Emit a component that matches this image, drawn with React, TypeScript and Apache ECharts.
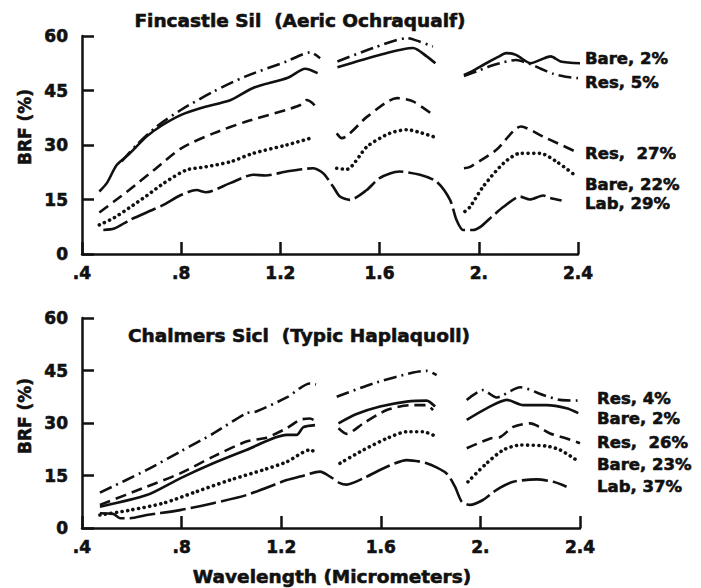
import React, { useEffect, useRef } from "react";
import * as echarts from "echarts";

// ---- tick labels ----
const X_TICK_LABELS = [".4", ".8", "1.2", "1.6", "2.", "2.4"];

// ---- Panel 1: Fincastle Sil (Aeric Ochraqualf) — [wavelength µm, BRF %] ----
const topBare2: (number | null)[][] = [
  [0.47, 17.2], [0.5, 19.5], [0.54, 24.5], [0.59, 27.5], [0.66, 32.3], [0.72, 35.3], [0.8, 38.3],
  [0.88, 40.2], [1.0, 42.4], [1.09, 45.7], [1.23, 48.5], [1.3, 51], [1.35, 49.8], [1.39, null],
  [1.43, 51.4], [1.6, 54.8], [1.735, 56.7], [1.79, 54.4], [1.825, 52.5], [1.88, null],
  [1.94, 49.3], [1.97, 50.2], [2.03, 52.5], [2.08, 54.3], [2.11, 55.3], [2.15, 54.8], [2.21, 52.5],
  [2.25, 53.5], [2.29, 54.4], [2.33, 53], [2.41, 52.5],
];
const topRes5: (number | null)[][] = [
  [0.56, 25.5], [0.62, 30], [0.7, 35], [0.8, 39.7], [0.93, 44.7], [1.06, 48.9], [1.225, 53],
  [1.32, 55.5], [1.36, 53.9], [1.39, null],
  [1.43, 53], [1.575, 56.7], [1.71, 59.4], [1.76, 58.5], [1.815, 57.1], [1.88, null],
  [1.94, 49], [2.0, 50.5], [2.05, 51.8], [2.1, 52.8], [2.15, 53.4], [2.21, 52.2], [2.25, 51],
  [2.3, 49.6], [2.35, 48.8], [2.4, 48.4],
];
const topRes27: (number | null)[][] = [
  [0.47, 11.4], [0.53, 14.5], [0.59, 17.6], [0.69, 23.1], [0.8, 29.1], [0.93, 33.2], [1.06, 36.4],
  [1.225, 39.7], [1.28, 41], [1.306, 42.4], [1.33, 41.5], [1.352, 39.7], [1.39, null],
  [1.427, 33.2], [1.447, 31.9], [1.55, 37.8], [1.67, 42.9], [1.735, 42], [1.815, 38.3], [1.88, null],
  [1.94, 23.6], [1.965, 24], [2.07, 28.6], [2.17, 35.1], [2.26, 32.3], [2.39, 28.2],
];
const topBare22: (number | null)[][] = [
  [0.47, 8], [0.53, 10], [0.59, 12.7], [0.66, 16], [0.73, 19.5], [0.82, 23.1], [0.9, 24],
  [1.0, 25.4], [1.09, 27.7], [1.225, 30], [1.333, 32.1], [1.39, null],
  [1.427, 23.6], [1.467, 23.3], [1.55, 29.6], [1.64, 33.2], [1.71, 34.2], [1.76, 33.5], [1.817, 32.3], [1.88, null],
  [1.944, 11.7], [1.965, 13], [2.017, 18.5], [2.1, 25], [2.166, 27.7], [2.247, 27.7], [2.314, 25.4], [2.395, 21.3],
];
const topLab29: (number | null)[][] = [
  [0.486, 6.6], [0.53, 7], [0.594, 9.4], [0.728, 13.5], [0.795, 16.1], [0.862, 17.6], [0.9, 17],
  [0.997, 19.5], [1.09, 21.8], [1.14, 21.6], [1.225, 22.7], [1.333, 23.6], [1.373, 22.2],
  [1.413, 18.5], [1.44, 15.8], [1.48, 14.9], [1.548, 17.6], [1.6, 20.9], [1.68, 22.7], [1.763, 21.8],
  [1.83, 19.9], [1.884, 14.9], [1.91, 9.4], [1.937, 6.6], [1.977, 6.6], [2.005, 7.4], [2.045, 9.8],
  [2.1, 13], [2.166, 15.8], [2.206, 15], [2.26, 16.1], [2.287, 15.4], [2.334, 14.7],
];

// ---- Panel 2: Chalmers Sicl (Typic Haplaquoll) ----
const botRes4: (number | null)[][] = [
  [0.472, 10.1], [0.66, 16.6], [0.794, 21.8], [0.927, 27], [1.06, 32.8], [1.1, 33.3], [1.222, 37.3],
  [1.316, 41.3], [1.34, 41], [1.38, null],
  [1.423, 37.5], [1.57, 41.3], [1.73, 44.4], [1.784, 44.9], [1.824, 43.7], [1.88, null],
  [1.945, 36.6], [2.01, 39.4], [2.065, 37.3], [2.16, 40.2], [2.252, 38], [2.32, 36.6], [2.4, 36.4],
];
const botBare2: (number | null)[][] = [
  [0.472, 6.1], [0.66, 9.4], [0.794, 14.2], [0.927, 18.5], [1.06, 22.3], [1.222, 26.6],
  [1.262, 26.6], [1.289, 28.8], [1.336, 29.4], [1.38, null],
  [1.43, 29.9], [1.5, 32.5], [1.597, 34.7], [1.704, 36.1], [1.784, 36.4], [1.818, 34.7], [1.88, null],
  [1.945, 30.9], [2.025, 34.2], [2.106, 36.6], [2.172, 35.1], [2.266, 35.1], [2.346, 34.2], [2.393, 32.8],
];
const botRes26: (number | null)[][] = [
  [0.472, 6.6], [0.66, 11.8], [0.794, 15.6], [0.927, 20.4], [1.06, 24.7], [1.14, 25.8], [1.222, 28.5],
  [1.275, 30.9], [1.316, 31.3], [1.33, 30.9], [1.38, null],
  [1.43, 28.5], [1.463, 26.9], [1.53, 29.9], [1.624, 33.7], [1.717, 35.1], [1.784, 35.1], [1.81, 33.7], [1.88, null],
  [1.945, 22.8], [2.04, 25.6], [2.08, 26], [2.132, 28.9], [2.2, 29.9], [2.225, 29.3], [2.28, 27],
  [2.346, 25.6], [2.4, 24.2],
];
const botBare23: (number | null)[][] = [
  [0.472, 3.7], [0.593, 5.1], [0.727, 7.1], [0.86, 10.4], [0.994, 13.7], [1.128, 16.6], [1.222, 18.9],
  [1.316, 22.3], [1.34, 21.6], [1.38, null],
  [1.436, 18.5], [1.53, 22.3], [1.624, 25.6], [1.704, 27.5], [1.77, 27.5], [1.824, 26.1], [1.88, null],
  [1.95, 13.2], [2.025, 18.5], [2.092, 22.3], [2.16, 23.7], [2.266, 23.4], [2.32, 22.3], [2.386, 19.4],
];
const botLab37: (number | null)[][] = [
  [0.472, 4.2], [0.526, 4], [0.553, 2.8], [0.593, 2.8], [0.66, 3.7], [0.794, 5.1], [0.927, 7.1],
  [1.06, 9.4], [1.222, 13.7], [1.275, 14.7], [1.356, 16.1], [1.396, 14.7], [1.436, 12.8],
  [1.463, 12.4], [1.53, 14.2], [1.624, 17.5], [1.704, 19.4], [1.784, 18.5], [1.864, 15.6],
  [1.898, 11.8], [1.925, 7.5], [1.958, 6.6], [2.01, 8], [2.065, 10.9], [2.132, 13.2], [2.226, 13.9],
  [2.293, 13.2], [2.346, 11.8],
];

const TOP_LABELS = ["Bare, 2%", "Res, 5%", "Res,  27%", "Bare, 22%", "Lab, 29%"];
const BOT_LABELS = ["Res, 4%", "Bare, 2%", "Res,  26%", "Bare, 23%", "Lab, 37%"];
const TITLES = ["Fincastle Sil  (Aeric Ochraqualf)", "Chalmers Sicl  (Typic Haplaquoll)"];
const Y_NAME = "BRF (%)";
const X_NAME = "Wavelength (Micrometers)";

const FONT = "DejaVu Sans";
const INK = "#111";

const STYLE_SOLID: any = "solid";
const STYLE_DASHDOT: any = [13, 5, 2, 5];
const STYLE_DASH: any = [11, 6];
const STYLE_DOT: any = [0.1, 5.5];
const STYLE_LONG: any = [26, 5];

export default function App() {
  const ref = useRef<HTMLDivElement>(null);
  useEffect(() => {
    if (!ref.current) return;
    const chart = echarts.init(ref.current, undefined, { renderer: "svg" });

    const tickFont = {
      color: INK,
      fontFamily: FONT,
      fontWeight: "bold" as const,
      fontSize: 17,
      textBorderColor: INK,
      textBorderWidth: 0.6,
    };

    const xAxisBase = (gi: number) => ({
      type: "value" as const,
      gridIndex: gi,
      min: 0.4,
      max: 2.4,
      interval: 0.4,
      axisLine: { lineStyle: { color: INK, width: 2.5 } },
      axisTick: { inside: true, length: 12, lineStyle: { color: INK, width: 2.5 } },
      splitLine: { show: false },
      axisLabel: {
        ...tickFont,
        margin: 10,
        formatter: (v: number) => X_TICK_LABELS[Math.round((v - 0.4) / 0.4)] ?? "",
      },
    });
    const yAxisBase = (gi: number) => ({
      type: "value" as const,
      gridIndex: gi,
      min: 0,
      max: 60,
      interval: 15,
      axisLine: { show: true, lineStyle: { color: INK, width: 2.5 } },
      axisTick: { show: true, inside: true, length: 12, lineStyle: { color: INK, width: 2.5 } },
      splitLine: { show: false },
      axisLabel: { ...tickFont, margin: 14 },
    });

    const mk = (data: any[], gi: number, type: any, dotted = false) => ({
      type: "line" as const,
      xAxisIndex: gi,
      yAxisIndex: gi,
      data,
      showSymbol: false,
      symbol: "none",
      smooth: 0.25,
      connectNulls: false,
      silent: true,
      lineStyle: {
        color: INK,
        width: dotted ? 3.6 : 2.6,
        type,
        cap: dotted ? ("round" as const) : ("butt" as const),
      },
    });

    const txt = (text: string, x: number, y: number, size: number, align: string, rotation = 0) => ({
      type: "text" as const,
      x,
      y,
      rotation,
      style: {
        text,
        fill: INK,
        stroke: INK,
        lineWidth: 0.6,
        font: `bold ${size}px "${FONT}"`,
        textAlign: align,
        textVerticalAlign: "middle",
      },
    });

    const topLabelY = [58, 82, 153, 184, 203];
    const botLabelY = [398, 418, 442, 464, 486];

    chart.setOption({
      animation: false,
      backgroundColor: "#fff",
      grid: [
        { left: 82, top: 36, width: 496, height: 218 },
        { left: 82, top: 318, width: 498, height: 210 },
      ],
      xAxis: [xAxisBase(0), xAxisBase(1)],
      yAxis: [yAxisBase(0), yAxisBase(1)],
      series: [
        mk(topBare2, 0, STYLE_SOLID),
        mk(topRes5, 0, STYLE_DASHDOT),
        mk(topRes27, 0, STYLE_DASH),
        mk(topBare22, 0, STYLE_DOT, true),
        mk(topLab29, 0, STYLE_LONG),
        mk(botRes4, 1, STYLE_DASHDOT),
        mk(botBare2, 1, STYLE_SOLID),
        mk(botRes26, 1, STYLE_DASH),
        mk(botBare23, 1, STYLE_DOT, true),
        mk(botLab37, 1, STYLE_LONG),
      ],
      graphic: [
        txt(TITLES[0], 300, 20, 18.5, "center"),
        txt(TITLES[1], 299, 335, 18.5, "center"),
        txt(Y_NAME, 25, 127, 17, "center", Math.PI / 2),
        txt(Y_NAME, 25, 416, 17, "center", Math.PI / 2),
        txt(X_NAME, 332, 576, 18.5, "center"),
        ...TOP_LABELS.map((t, i) => txt(t, 585, topLabelY[i], 16.5, "left")),
        ...BOT_LABELS.map((t, i) => txt(t, 597, botLabelY[i], 16.5, "left")),
      ],
    });
    return () => chart.dispose();
  }, []);
  return <div ref={ref} style={{ width: 701, height: 588, position: "absolute", left: 0, top: 0 }} />;
}
